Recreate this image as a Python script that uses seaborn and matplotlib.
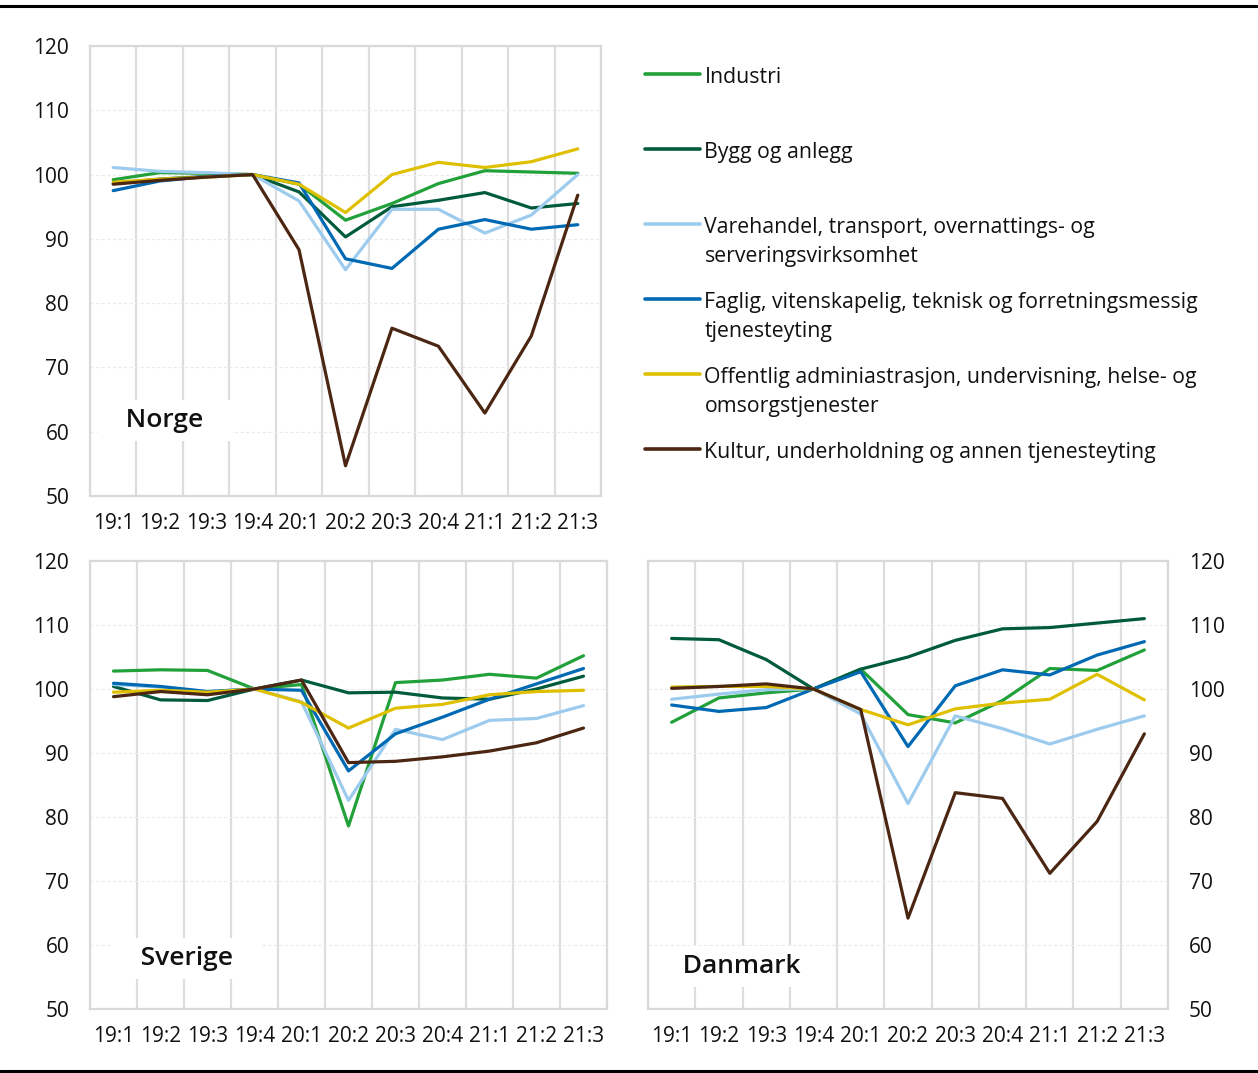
import numpy as np
import pandas as pd
import matplotlib
matplotlib.use("Agg")
import matplotlib.pyplot as plt
import seaborn as sns
from matplotlib.lines import Line2D

# ---------------- data ----------------
quarters = ["19:1", "19:2", "19:3", "19:4", "20:1", "20:2", "20:3", "20:4", "21:1", "21:2", "21:3"]
sectors = ["Industri", "Bygg og anlegg",
           "Varehandel, transport, overnattings- og serveringsvirksomhet",
           "Faglig, vitenskapelig, teknisk og forretningsmessig tjenesteyting",
           "Offentlig adminiastrasjon, undervisning, helse- og omsorgstjenester",
           "Kultur, underholdning og annen tjenesteyting"]
legend_labels = ["Industri\n", "Bygg og anlegg\n",
                 "Varehandel, transport, overnattings- og\nserveringsvirksomhet",
                 "Faglig, vitenskapelig, teknisk og forretningsmessig\ntjenesteyting",
                 "Offentlig adminiastrasjon, undervisning, helse- og\nomsorgstjenester",
                 "Kultur, underholdning og annen tjenesteyting"]
colors = ["#22a03a", "#005a3c", "#9dcbee", "#0069b4", "#dfc000", "#4b2612"]

norge_industri = [99.2, 100.3, 100.2, 100, 98.5, 92.9, 95.5, 98.6, 100.6, 100.4, 100.2]
norge_bygg = [98.6, 99.3, 99.7, 100, 97.3, 90.3, 95.0, 96.0, 97.2, 94.8, 95.5]
norge_vare = [101.1, 100.5, 100.3, 100, 95.9, 85.2, 94.6, 94.6, 90.9, 93.7, 100.0]
norge_faglig = [97.5, 99.0, 99.7, 100, 98.7, 86.9, 85.4, 91.5, 93.0, 91.5, 92.2]
norge_offentlig = [98.8, 99.3, 99.6, 100, 98.5, 94.1, 100.0, 101.9, 101.1, 102.0, 104.0]
norge_kultur = [98.5, 99.1, 99.6, 100, 88.3, 54.7, 76.1, 73.3, 62.9, 74.9, 96.8]

sverige_industri = [102.8, 103.0, 102.9, 100, 100.7, 78.6, 101.0, 101.4, 102.3, 101.7, 105.2]
sverige_bygg = [100.4, 98.3, 98.2, 100, 101.4, 99.4, 99.5, 98.6, 98.4, 100.0, 102.0]
sverige_vare = [100.7, 100.3, 99.6, 100, 98.0, 82.6, 93.7, 92.1, 95.1, 95.4, 97.4]
sverige_faglig = [100.9, 100.4, 99.6, 100, 99.8, 87.2, 93.0, 95.6, 98.4, 100.8, 103.2]
sverige_offentlig = [99.5, 99.8, 99.5, 100, 97.9, 93.9, 97.0, 97.6, 99.1, 99.6, 99.8]
sverige_kultur = [98.8, 99.6, 99.1, 100, 101.4, 88.5, 88.7, 89.4, 90.3, 91.6, 93.9]

danmark_industri = [94.8, 98.6, 99.4, 100, 103.1, 96.0, 94.7, 98.2, 103.2, 102.9, 106.1]
danmark_bygg = [107.9, 107.7, 104.6, 100, 103.1, 105.0, 107.6, 109.4, 109.6, 110.3, 111.0]
danmark_vare = [98.4, 99.2, 99.9, 100, 96.1, 82.1, 95.8, 93.8, 91.4, 93.7, 95.8]
danmark_faglig = [97.5, 96.5, 97.1, 100, 102.7, 91.0, 100.5, 103.0, 102.2, 105.3, 107.4]
danmark_offentlig = [100.3, 100.4, 100.4, 100, 96.8, 94.4, 96.9, 97.8, 98.4, 102.3, 98.3]
danmark_kultur = [100.1, 100.4, 100.8, 100, 96.8, 64.2, 83.8, 82.9, 71.2, 79.3, 93.0]

yticks = [50, 60, 70, 80, 90, 100, 110, 120]

# ---------------- style ----------------
sns.set_theme(style="white")
plt.rcParams['font.family'] = ['Open Sans', 'DejaVu Sans']
plt.rcParams['text.color'] = '#111111'

FS = 15.0
LFS = 15.3
W, H = 1258, 1073
fig = plt.figure(figsize=(W / 100, H / 100), dpi=100)
fig.patch.set_facecolor("white")


def fr(x0, y_top, x1, y_bot):
    return [x0 / W, 1 - y_bot / H, (x1 - x0) / W, (y_bot - y_top) / H]


def long_df(series):
    rows = []
    for sec, vals in zip(sectors, series):
        for q, v in zip(quarters, vals):
            rows.append((sec, q, v))
    return pd.DataFrame(rows, columns=["sektor", "kvartal", "indeks"])


panels = [
    ("Norge", fr(90, 46, 601, 496),
     [norge_industri, norge_bygg, norge_vare, norge_faglig, norge_offentlig, norge_kultur],
     (0.146, 0.168), "left"),
    ("Sverige", fr(90, 561, 607, 1009),
     [sverige_industri, sverige_bygg, sverige_vare, sverige_faglig, sverige_offentlig, sverige_kultur],
     (0.187, 0.112), "left"),
    ("Danmark", fr(648, 561, 1168, 1009),
     [danmark_industri, danmark_bygg, danmark_vare, danmark_faglig, danmark_offentlig, danmark_kultur],
     (0.180, 0.094), "right"),
]

palette = dict(zip(sectors, colors))
axes = []
for name, rect, series, tpos, side in panels:
    ax = fig.add_axes(rect)
    axes.append(ax)
    df = long_df(series)
    sns.lineplot(data=df, x="kvartal", y="indeks", hue="sektor", hue_order=sectors,
                 palette=palette, linewidth=2.3, sort=False, errorbar=None,
                 legend=False, ax=ax)
    ax.set_xlim(-0.5, len(quarters) - 0.5)
    ax.set_ylim(50, 120)
    ax.set_yticks(yticks)
    ax.set_xticks(range(len(quarters)))
    ax.set_xticklabels(quarters)
    ax.set_xticks(np.arange(-0.5, len(quarters), 1.0), minor=True)
    ax.set_xlabel("")
    ax.set_ylabel("")
    ax.set_axisbelow(True)
    ax.grid(False)
    ax.grid(which="minor", axis="x", color="#dddddd", linewidth=1.6)
    ax.grid(which="major", axis="y", color="#ebebeb", linewidth=0.8, linestyle=(0, (3, 2)))
    ax.tick_params(axis="both", which="both", length=0, labelsize=FS, labelcolor="#111111")
    ax.tick_params(axis="y", pad=15)
    ax.tick_params(axis="x", pad=12)
    if side == "right":
        ax.yaxis.tick_right()
    for sp in ax.spines.values():
        sp.set_color("#d9d9d9")
        sp.set_linewidth(1.6)
        sp.set_visible(True)
    ax.text(tpos[0], tpos[1], "   " + name + "   ", transform=ax.transAxes,
            ha="center", va="center", fontsize=19, fontweight="semibold",
            color="#111111", zorder=1.5,
            bbox=dict(boxstyle="square,pad=0.3", fc="white", ec="none"))

# ---------------- legend ----------------
handles = axes[0].get_lines()[:len(sectors)]
leg = fig.legend(handles, legend_labels, loc="upper left",
                 bbox_to_anchor=(645 / W, 1 - 67 / H), frameon=False,
                 fontsize=LFS, handlelength=2.6, handletextpad=0.2,
                 labelspacing=1.19, borderpad=0, borderaxespad=0)
for t in leg.get_texts():
    t.set_linespacing(1.48)
    t.set_color("#111111")
for ln in leg.get_lines():
    ln.set_linewidth(2.6)
# align each handle with the first line of its label
try:
    box = leg.get_children()[0]
    handle_box = box.get_children()[-1]
    for col in handle_box.get_children():
        for item in col.get_children():
            item.align = "top"
except Exception:
    pass

# ---------------- frame lines ----------------
fig.add_artist(Line2D([0, 1], [1 - 5.5 / H, 1 - 5.5 / H], transform=fig.transFigure,
                      color="black", linewidth=2.2))
fig.add_artist(Line2D([0, 1], [1 - 1070.5 / H, 1 - 1070.5 / H], transform=fig.transFigure,
                      color="black", linewidth=2.2))

fig.savefig("out.png", dpi=100, facecolor="white")
